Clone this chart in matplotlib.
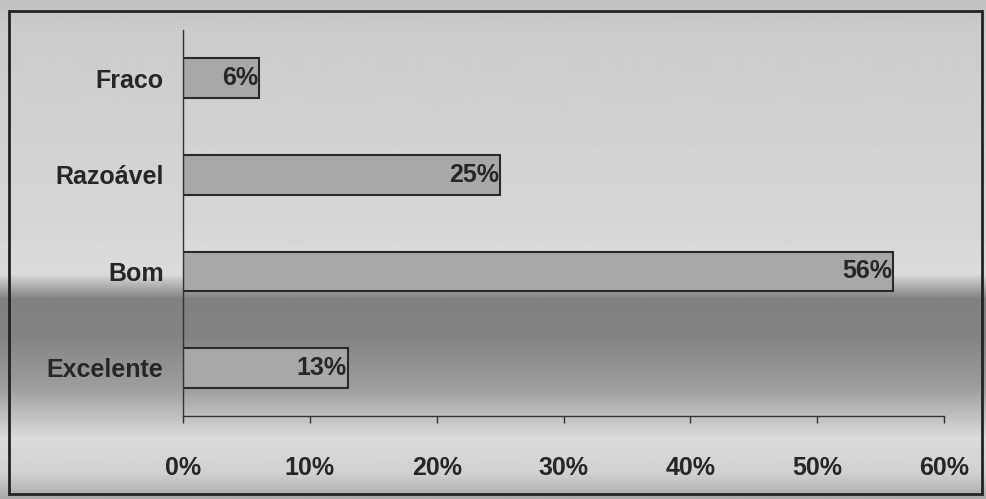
import matplotlib.pyplot as plt
import numpy as np

plt.rcParams['font.family'] = ['Liberation Sans', 'DejaVu Sans']

# Dados do gráfico
categorias = ['Excelente', 'Bom', 'Razoável', 'Fraco']
valores = [13, 56, 25, 6]
rotulos = ['13%', '56%', '25%', '6%']
ticks = [0, 10, 20, 30, 40, 50, 60]
tick_labels = ['0%', '10%', '20%', '30%', '40%', '50%', '60%']

fig = plt.figure(figsize=(9.86, 4.99), dpi=100)

# Fundo em degradê cinzento (imitando o papel digitalizado)
bg = fig.add_axes([0, 0, 1, 1], zorder=0)
yy = np.linspace(0, 1, 499)
tons = np.interp(yy, [0, 0.06, 0.45, 0.55, 0.60, 0.68, 0.78, 0.88, 0.95, 1.0],
                 [0.76, 0.80, 0.84, 0.86, 0.50, 0.52, 0.62, 0.86, 0.82, 0.66])
bg.imshow(np.tile(tons[:, None], (1, 10)), cmap='gray', vmin=0, vmax=1,
          aspect='auto', extent=[0, 1, 0, 1], origin='upper')
bg.add_patch(plt.Rectangle((0.009, 0.01), 0.987, 0.968, fill=False,
                           edgecolor='#222222', linewidth=2))
bg.set_xlim(0, 1)
bg.set_ylim(0, 1)
bg.axis('off')

ax = fig.add_axes([0.1856, 0.166, 0.772, 0.774], zorder=1)
ax.patch.set_alpha(0)

y = np.arange(len(categorias))
ax.barh(y, valores, height=0.41, color='#a8a8a8', edgecolor='#2a2a2a', linewidth=1.5)

for yi, v, r in zip(y, valores, rotulos):
    ax.text(v - 0.1, yi, r, ha='right', va='center', fontsize=18,
            fontweight='bold', color='#262626')

ax.set_xlim(0, 60)
ax.set_ylim(-0.5, len(categorias) - 0.5)
ax.set_xticks(ticks)
ax.set_xticklabels(tick_labels, fontsize=18, fontweight='bold', color='#262626')
ax.set_yticks(y)
ax.set_yticklabels(categorias, fontsize=18, fontweight='bold', color='#262626')
ax.tick_params(axis='x', length=5, width=1, pad=24, color='#333333')
ax.tick_params(axis='y', length=0, pad=14)

for s in ['top', 'right']:
    ax.spines[s].set_visible(False)
for s in ['left', 'bottom']:
    ax.spines[s].set_color('#333333')
    ax.spines[s].set_linewidth(1)

fig.savefig('out.png', dpi=100)
